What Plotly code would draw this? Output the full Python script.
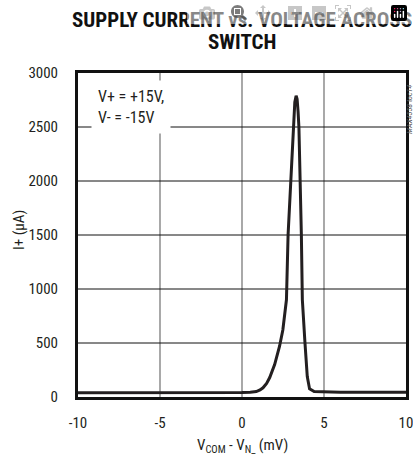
import plotly.graph_objects as go

# Data
v_diff_mv = [-10, -8, -6, -4, -2, 0, 0.5, 0.87, 1.1, 1.28, 1.5, 1.69, 1.99, 2.29, 2.49,
             2.71, 2.81, 2.97, 3.11, 3.22, 3.3, 3.36, 3.42, 3.47, 3.62, 3.68, 3.84,
             3.98, 4.12, 4.4, 6, 8, 10]
i_plus_ua = [40, 40, 38, 38, 40, 42, 45, 50, 65, 85, 125, 180, 300, 470, 620,
             900, 1500, 2000, 2500, 2730, 2790, 2760, 2640, 2500, 1500, 900, 500,
             190, 75, 50, 45, 45, 45]

x_ticks = [-10, -5, 0, 5, 10]
y_ticks = [0, 500, 1000, 1500, 2000, 2500, 3000]

FONT = "Roboto Condensed, Liberation Sans Narrow, sans-serif"
TXT = "#231f20"

fig = go.Figure()
fig.add_trace(go.Scatter(x=v_diff_mv, y=i_plus_ua, mode="lines",
                         line=dict(color=TXT, width=3), showlegend=False))

# vertical gridlines (gray)
for xv in [-5, 0, 5]:
    fig.add_shape(type="line", x0=xv, x1=xv, y0=0, y1=3000, xref="x", yref="y",
                  line=dict(color="#7a7a7a", width=1.3), layer="below")
# horizontal gridlines (black)
for yv in [500, 1000, 1500, 2000, 2500]:
    fig.add_shape(type="line", x0=-10, x1=10, y0=yv, y1=yv, xref="x", yref="y",
                  line=dict(color="#111111", width=1), layer="below")

fig.update_layout(
    width=413, height=459,
    margin=dict(l=78, r=7, t=73, b=62, autoexpand=False),
    paper_bgcolor="white", plot_bgcolor="white",
    font=dict(family=FONT, size=15, color=TXT),
    xaxis=dict(range=[-10, 10], tickvals=x_ticks,
               ticktext=[str(t) if t >= 0 else "-" + str(-t) for t in x_ticks],
               showgrid=False, zeroline=False, showline=True, mirror=True,
               linecolor="#111111", linewidth=3, ticks="", ticklabelstandoff=10,
               ticklabeloverflow="allow", automargin=False),
    yaxis=dict(range=[0, 3000], tickvals=y_ticks, showgrid=False, zeroline=False,
               showline=True, mirror=True, linecolor="#111111", linewidth=3,
               ticks="", ticklabelstandoff=14, ticklabeloverflow="allow",
               automargin=False),
    annotations=[
        # title (two lines)
        dict(x=0.5, y=1, xref="paper", yref="paper", xanchor="center", yanchor="middle",
             yshift=53, text="<b>SUPPLY CURRENT vs. VOLTAGE ACROSS</b>", showarrow=False,
             font=dict(family=FONT, size=21, color="#111111")),
        dict(x=0.5, y=1, xref="paper", yref="paper", xanchor="center", yanchor="middle",
             yshift=31, text="<b>SWITCH</b>", showarrow=False,
             font=dict(family=FONT, size=21, color="#111111")),
        # axis titles
        dict(x=0.5, y=0, xref="paper", yref="paper", xanchor="center", yanchor="middle",
             yshift=-49, text="V<sub>COM</sub> - V<sub>N_</sub> (mV)", showarrow=False,
             font=dict(size=15)),
        dict(x=0, y=0.5, xref="paper", yref="paper", xanchor="center", yanchor="middle",
             xshift=-59, yshift=5, text="I+ (µA)", textangle=-90, showarrow=False,
             font=dict(size=15)),
        # condition box
        dict(x=-9.21, y=2935, xref="x", yref="y", xanchor="left", yanchor="top",
             text="V+ = +15V,<br>V- = -15V", showarrow=False, align="left",
             bgcolor="white", borderpad=6, font=dict(size=16)),
        # figure id
        dict(x=1.0, y=0.886, xref="paper", yref="paper", xanchor="center", yanchor="middle",
             xshift=4, text="<i>MAX4558 toc14</i>", textangle=-90, showarrow=False,
             font=dict(size=8, color="#555555")),
    ],
)

fig.write_html("out.html", post_script="document.body.style.margin='0px';")
